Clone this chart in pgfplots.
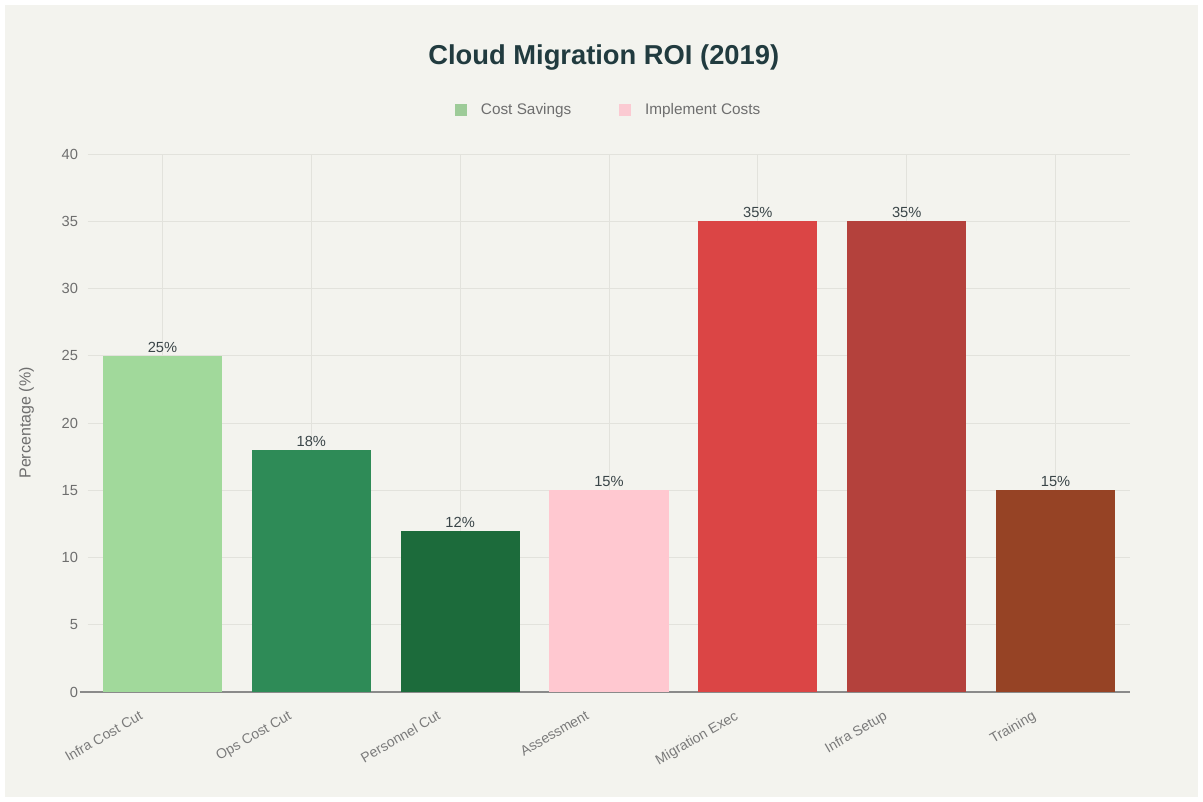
\documentclass[border=0pt]{standalone}
\usepackage{pgfplots}
\pgfplotsset{compat=1.18}
\usetikzlibrary{backgrounds}
\usepackage{fontspec}
\setmainfont{Liberation Sans}
\definecolor{bg}{HTML}{F3F3EE}
\definecolor{gridc}{HTML}{E2E2DC}
\definecolor{axc}{HTML}{8A8A8A}
\definecolor{tickc}{HTML}{6E6E6E}
\definecolor{xtickc}{HTML}{7A7A7A}
\definecolor{titlec}{HTML}{213B3F}
\definecolor{valc}{HTML}{3A4548}
\definecolor{cA}{HTML}{A1D99B}
\definecolor{cB}{HTML}{2E8B57}
\definecolor{cC}{HTML}{1C6B3B}
\definecolor{cD}{HTML}{FFC8D0}
\definecolor{cE}{HTML}{DB4545}
\definecolor{cF}{HTML}{B4413C}
\definecolor{cG}{HTML}{964325}
\definecolor{legG}{HTML}{9DCB98}
\definecolor{legP}{HTML}{FBCAD2}
\begin{document}
\begin{tikzpicture}[x=0.75pt,y=0.75pt]
\begin{axis}[
  scale only axis, width=781.5pt, height=403.5pt,
  xmin=-0.5, xmax=6.5, ymin=0, ymax=40,
  ybar, bar width=0.8, bar shift=0pt,
  axis lines*=left,
  x axis line style={axc, line width=0.8pt},
  y axis line style={draw=none},
  xtick={0,...,6},
  xticklabels={Infra Cost Cut,Ops Cost Cut,Personnel Cut,Assessment,Migration Exec,Infra Setup,Training},
  xticklabel style={xshift=-16.7pt, yshift=-8.7pt, rotate=30, anchor=north east, font=\fontsize{10.5}{12}\selectfont, text=xtickc},
  ytick={0,5,...,40},
  yticklabel style={font=\fontsize{11}{12}\selectfont, text=tickc, xshift=-4pt},
  /pgf/number format/assume math mode=true,
  major tick length=0pt,
  xmajorgrids, ymajorgrids,
  grid style={gridc, line width=0.6pt},
  ylabel={Percentage (\%)},
  ylabel style={font=\fontsize{12}{13}\selectfont, text=tickc},
  every axis y label/.append style={at={(rel axis cs:0,0.5)}, yshift=37pt},
  nodes near coords={\pgfmathprintnumber{\pgfplotspointmeta}\%},
  every node near coord/.append style={font=\fontsize{11}{12}\selectfont, text=valc, yshift=-1pt},
  legend style={at={(0.5,1.082)}, anchor=center, draw=none, fill=none,
    legend columns=2, font=\fontsize{11.5}{12}\selectfont, text=tickc,
    /tikz/every odd column/.append style={column sep=9pt},
    /tikz/every even column/.append style={column sep=34pt}},
  legend image code/.code={\fill[#1] (0pt,-4pt) rectangle (8pt,4pt);},
  clip=false,
]
\addlegendimage{legG}
\addlegendentry{Cost Savings}
\addlegendimage{legP}
\addlegendentry{Implement Costs}
\addplot[fill=cA, draw=none, forget plot] coordinates {(0,25)};
\addplot[fill=cB, draw=none, forget plot] coordinates {(1,18)};
\addplot[fill=cC, draw=none, forget plot] coordinates {(2,12)};
\addplot[fill=cD, draw=none, forget plot] coordinates {(3,15)};
\addplot[fill=cE, draw=none, forget plot] coordinates {(4,35)};
\addplot[fill=cF, draw=none, forget plot] coordinates {(5,35)};
\addplot[fill=cG, draw=none, forget plot] coordinates {(6,15)};
\draw[axc, line width=0.8pt] (rel axis cs:-0.008,0) -- (rel axis cs:0,0);
\node[font=\bfseries\fontsize{20.5}{24}\selectfont, text=titlec] at (rel axis cs:0.495,1.18) {Cloud Migration ROI (2019)};
\coordinate (SW) at (rel axis cs:0,0);
\end{axis}
\begin{scope}[on background layer, shift={(SW)}]
\fill[white] (-88,-110) rectangle (1115,692);
\fill[bg] (-83,-105) rectangle (1110,687);
\end{scope}
\end{tikzpicture}
\end{document}
